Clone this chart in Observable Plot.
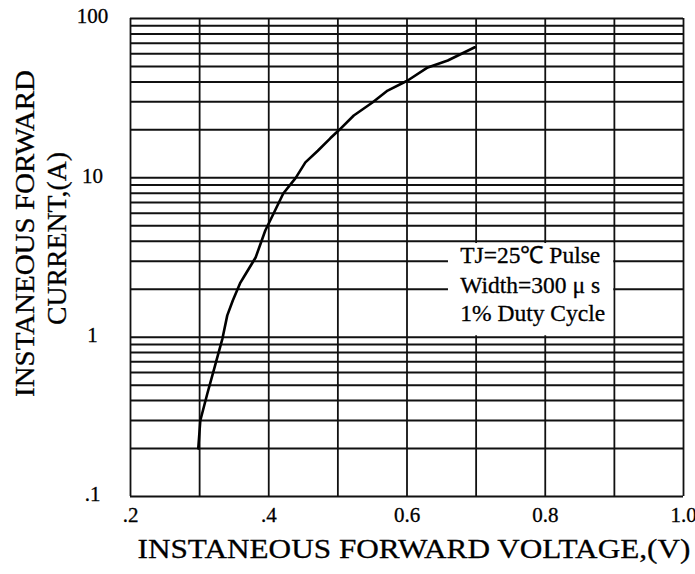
<!DOCTYPE html>
<html>
<head>
<meta charset="utf-8">
<script src="https://cdn.jsdelivr.net/npm/d3@7"></script>
<script src="https://cdn.jsdelivr.net/npm/@observablehq/plot@0.6"></script>
<style>
  html, body { margin: 0; padding: 0; background: #fff; }
  #chart svg { display: block; }
</style>
</head>
<body>
<div id="chart"></div>
<script>
// Forward voltage (V) and forward current (A)
const voltage = [0.298, 0.301, 0.311, 0.323, 0.333, 0.340, 0.348, 0.359, 0.3635, 0.381, 0.395, 0.407, 0.421, 0.439, 0.453, 0.471, 0.489, 0.501, 0.523, 0.550, 0.572, 0.601, 0.630, 0.659, 0.698];
const current = [0.20, 0.30, 0.44, 0.68, 0.98, 1.37, 1.70, 2.20, 2.37, 3.16, 4.67, 5.97, 7.97, 10.0, 12.5, 14.8, 17.7, 19.8, 24.6, 29.7, 35.3, 40.8, 49.3, 54.5, 66];

// Grid lines
const xGrid = [0.2, 0.3, 0.4, 0.5, 0.6, 0.7, 0.8, 0.9, 1.0];
const yGrid = [0.1, 0.2, 0.3, 0.4, 0.5, 0.6, 0.7, 0.8, 0.9,
               1, 2, 3, 4, 5, 6, 7, 8, 9,
               10, 20, 30, 40, 50, 60, 70, 80, 90, 100];

// Tick labels
const xTicks = [0.2, 0.4, 0.6, 0.8, 1.0];
const xTickLabels = [".2", ".4", "0.6", "0.8", "1.0"];
const yTicks = [0.1, 1, 10, 100];
const yTickLabels = [".1", "1", "10", "100"];

// Titles
const xTitle = "INSTANEOUS FORWARD VOLTAGE,(V)";
const yTitleLines = ["INSTANEOUS FORWARD", "CURRENT,(A)"];

// Annotation (data coordinates)
const noteLines = ["TJ=25\u2103 Pulse", "Width=300 \u03bc s", "1% Duty Cycle"];
const noteLineY = [3.25, 2.11, 1.41];
const noteX = 0.677;
const noteBox = [{x1: 0.66, x2: 0.899, y1: 1.02, y2: 3.87}];

const serif = "'Liberation Serif', 'Times New Roman', serif";

const pts = voltage.map((v, i) => ({v, a: current[i]}));

const chart = Plot.plot({
  width: 695,
  height: 574,
  marginLeft: 130,
  marginRight: 12,
  marginTop: 18,
  marginBottom: 78,
  style: {fontFamily: serif, background: "#fff", color: "#000"},
  x: {domain: [0.2, 1.0], axis: null},
  y: {type: "log", domain: [0.1, 100], axis: null},
  marks: [
    Plot.ruleY(yGrid, {y: d => d, stroke: "#111", strokeWidth: 2}),
    Plot.ruleX(xGrid, {x: d => d, stroke: "#111", strokeWidth: 1.8}),
    Plot.rect(noteBox, {x1: "x1", x2: "x2", y1: "y1", y2: "y2", fill: "#fff"}),
    Plot.line(pts, {x: "v", y: "a", stroke: "#000", strokeWidth: 2.6, curve: "linear"}),
    Plot.text(noteLines, {
      x: () => noteX, y: (d, i) => noteLineY[i], text: d => d,
      textAnchor: "start", fontSize: 23.5, fill: "#000", stroke: "#000", strokeWidth: 0.3
    }),
    Plot.text(xTicks, {
      x: d => d, text: (d, i) => xTickLabels[i],
      frameAnchor: "bottom", dy: 25, fontSize: 21, fill: "#000", stroke: "#000", strokeWidth: 0.3
    }),
    Plot.text(yTicks, {
      y: d => d, text: (d, i) => yTickLabels[i],
      frameAnchor: "left", dx: -38, dy: -2, textAnchor: "middle", fontSize: 21,
      fill: "#000", stroke: "#000", strokeWidth: 0.3
    }),
    Plot.text([xTitle], {
      text: d => d, frameAnchor: "bottom", dx: 7, dy: 61, fontSize: 28,
      fill: "#000", stroke: "#000", strokeWidth: 0.3
    }),
    Plot.text([yTitleLines[0]], {
      text: d => d, frameAnchor: "left", textAnchor: "middle",
      dx: -105, dy: -24, rotate: -90, fontSize: 28, fill: "#000", stroke: "#000", strokeWidth: 0.3
    }),
    Plot.text([yTitleLines[1]], {
      text: d => d, frameAnchor: "left", textAnchor: "middle",
      dx: -73, dy: -19, rotate: -90, fontSize: 28, fill: "#000", stroke: "#000", strokeWidth: 0.3
    })
  ]
});

// stretch titles to the reference's wide lettering
const fit = {[xTitle]: 553, [yTitleLines[0]]: 327, [yTitleLines[1]]: 173};
d3.select(chart).selectAll("text").each(function () {
  const t = this.textContent;
  if (fit[t]) {
    this.setAttribute("textLength", fit[t]);
    this.setAttribute("lengthAdjust", "spacingAndGlyphs");
  }
});

document.getElementById("chart").appendChild(chart);
</script>
</body>
</html>
